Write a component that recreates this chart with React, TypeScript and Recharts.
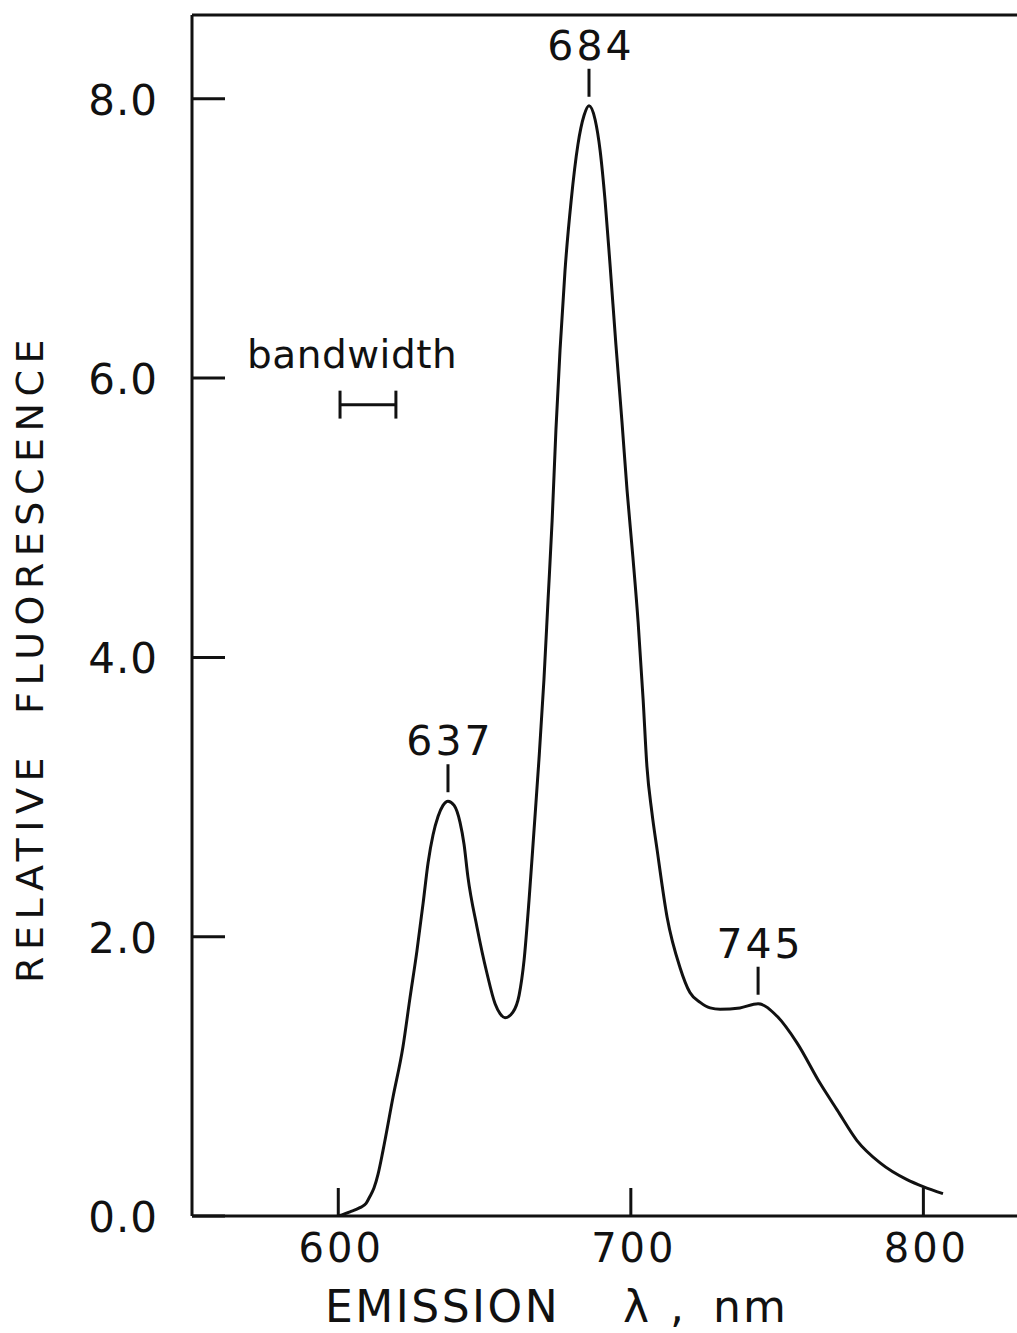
import React from 'react'
import { LineChart, Line, XAxis, YAxis, ReferenceDot, ReferenceLine } from 'recharts'

// emission spectrum
const WAVELENGTH_NM = [
  600, 604, 607.4, 609.5, 610.8, 612.2, 613.6, 615.3, 618.7, 622.1,
  624.5, 626.9, 629, 630.7, 632.4, 634.1, 635.8, 637.5, 639.6, 641.6,
  643, 644.3, 647.4, 650.8, 653.6, 655.3, 657, 659.7, 661.8, 663.5,
  665.2, 666.9, 668.6, 670.3, 671.7, 673.1, 674.4, 675.8, 677.5, 679.6,
  681.9, 684, 685.7, 687.8, 689.5, 691.2, 692.9, 694.9, 697, 698.7,
  700.7, 702.5, 704.2, 705.5, 707.2, 709, 712.4, 716.8, 720.2, 723.7,
  727.1, 730.5, 737.3, 743.5, 750, 756.8, 764.7, 770.5, 777.3, 785.2,
  794.4, 799.9, 806.7,
]
const FLUORESCENCE = [
  0, 0.03, 0.06, 0.09, 0.14, 0.2, 0.3, 0.47, 0.85, 1.21,
  1.56, 1.9, 2.24, 2.53, 2.73, 2.86, 2.94, 2.97, 2.94, 2.82,
  2.66, 2.43, 2.07, 1.74, 1.52, 1.45, 1.42, 1.46, 1.58, 1.83,
  2.26, 2.76, 3.27, 3.84, 4.41, 4.98, 5.63, 6.2, 6.77, 7.27,
  7.67, 7.88, 7.95, 7.85, 7.63, 7.27, 6.81, 6.24, 5.68, 5.2,
  4.72, 4.25, 3.7, 3.22, 2.89, 2.62, 2.14, 1.78, 1.6, 1.53,
  1.49, 1.48, 1.49, 1.52, 1.43, 1.24, 0.95, 0.76, 0.54, 0.38,
  0.26, 0.21, 0.16,
]

const X_TICKS = [600, 700, 800]
const Y_TICKS = [0, 2, 4, 6, 8]

const PEAK_LABELS = ['637', '684', '745']
const PEAK_NM = [637.5, 685.7, 743.5]
const PEAK_VALUE = [2.97, 7.95, 1.52]

const BANDWIDTH_NM = [600.6, 619.7]
const BANDWIDTH_LEVEL = 5.81

const INK = '#111111'
const FONT = '"DejaVu Sans", sans-serif'

const data = WAVELENGTH_NM.map((nm, i) => ({ nm, value: FLUORESCENCE[i] }))

// eslint-disable-next-line @typescript-eslint/no-explicit-any
function XTick({ x, y, payload }: any) {
  return (
    <g>
      <line x1={x} x2={x} y1={y} y2={y - 28} stroke={INK} strokeWidth={3} />
      <text x={x + 3} y={y + 46} textAnchor="middle" fontSize={40} fontFamily={FONT}
        letterSpacing={3} fill={INK}>
        {payload.value}
      </text>
    </g>
  )
}

// eslint-disable-next-line @typescript-eslint/no-explicit-any
function YTick({ x, y, payload }: any) {
  return (
    <g>
      <line x1={x} x2={x + 33} y1={y} y2={y} stroke={INK} strokeWidth={3} />
      <text x={x - 34} y={y + 16} textAnchor="end" fontSize={42} fontFamily={FONT}
        letterSpacing={1} fill={INK}>
        {Number(payload.value).toFixed(1)}
      </text>
    </g>
  )
}

// eslint-disable-next-line @typescript-eslint/no-explicit-any
function XTitle({ viewBox }: any) {
  const { x, y } = viewBox
  const base = y + 106
  const style = { fontSize: 44, fontFamily: FONT, fill: INK }
  return (
    <text y={base} style={style}>
      <tspan x={x + 133} letterSpacing={2.5}>EMISSION</tspan>
      <tspan x={x + 431}>λ</tspan>
      <tspan x={x + 478}>,</tspan>
      <tspan x={x + 521} letterSpacing={2}>nm</tspan>
    </text>
  )
}

function YTitle() {
  return (
    <text x={43} y={658} transform="rotate(-90, 43, 658)" textAnchor="middle"
      fontSize={38} fontFamily={FONT} letterSpacing={6.5} fill={INK}
      style={{ whiteSpace: 'pre' }}>
      {'RELATIVE  FLUORESCENCE'}
    </text>
  )
}

// eslint-disable-next-line @typescript-eslint/no-explicit-any
function PeakMark({ cx, cy, text }: any) {
  return (
    <g>
      <line x1={cx} x2={cx} y1={cy - 9} y2={cy - 37} stroke={INK} strokeWidth={3} />
      <text x={cx + 2} y={cy - 46} textAnchor="middle" fontSize={41} fontFamily={FONT}
        letterSpacing={3} fill={INK}>
        {text}
      </text>
    </g>
  )
}

// eslint-disable-next-line @typescript-eslint/no-explicit-any
function BandwidthText({ viewBox }: any) {
  return (
    <text x={viewBox.x - 93} y={viewBox.y - 37} fontSize={39} fontFamily={FONT}
      letterSpacing={0.5} fill={INK}>
      bandwidth
    </text>
  )
}

export default function App() {
  return (
    <div style={{ width: 1017, height: 1333, overflow: 'hidden', background: '#fff' }}>
      <style>{'body { margin: 0; }'}</style>
      <LineChart
        width={1017}
        height={1333}
        data={data}
        margin={{ top: 15, right: 0, bottom: 0, left: 0 }}
      >
        <XAxis
          dataKey="nm"
          type="number"
          domain={[550, 832]}
          allowDataOverflow
          ticks={X_TICKS}
          height={117}
          tickSize={0}
          tickMargin={0}
          tickLine={false}
          tick={<XTick />}
          axisLine={{ stroke: INK, strokeWidth: 3 }}
          label={<XTitle />}
        />
        <XAxis
          xAxisId="top"
          orientation="top"
          mirror
          type="number"
          domain={[550, 832]}
          allowDataOverflow
          ticks={X_TICKS}
          tick={false}
          tickSize={29}
          tickLine={{ stroke: INK, strokeWidth: 3 }}
          axisLine={{ stroke: INK, strokeWidth: 3 }}
        />
        <YAxis
          type="number"
          domain={[0, 8.6]}
          allowDataOverflow
          ticks={Y_TICKS}
          width={192}
          tickSize={0}
          tickMargin={0}
          tickLine={false}
          tick={<YTick />}
          axisLine={{ stroke: INK, strokeWidth: 3 }}
          label={<YTitle />}
        />
        <Line
          type="monotone"
          dataKey="value"
          stroke={INK}
          strokeWidth={3}
          dot={false}
          activeDot={false}
          isAnimationActive={false}
        />
        {PEAK_LABELS.map((label, i) => (
          <ReferenceDot
            key={label}
            x={PEAK_NM[i]}
            y={PEAK_VALUE[i]}
            r={0}
            shape={(p: any) => <PeakMark {...p} text={label} />}
          />
        ))}
        <ReferenceLine
          segment={[
            { x: BANDWIDTH_NM[0], y: BANDWIDTH_LEVEL },
            { x: BANDWIDTH_NM[1], y: BANDWIDTH_LEVEL },
          ]}
          stroke={INK}
          strokeWidth={3}
          label={<BandwidthText />}
        />
        {BANDWIDTH_NM.map((nm) => (
          <ReferenceLine
            key={nm}
            segment={[
              { x: nm, y: BANDWIDTH_LEVEL - 0.1 },
              { x: nm, y: BANDWIDTH_LEVEL + 0.1 },
            ]}
            stroke={INK}
            strokeWidth={3}
          />
        ))}
      </LineChart>
    </div>
  )
}
